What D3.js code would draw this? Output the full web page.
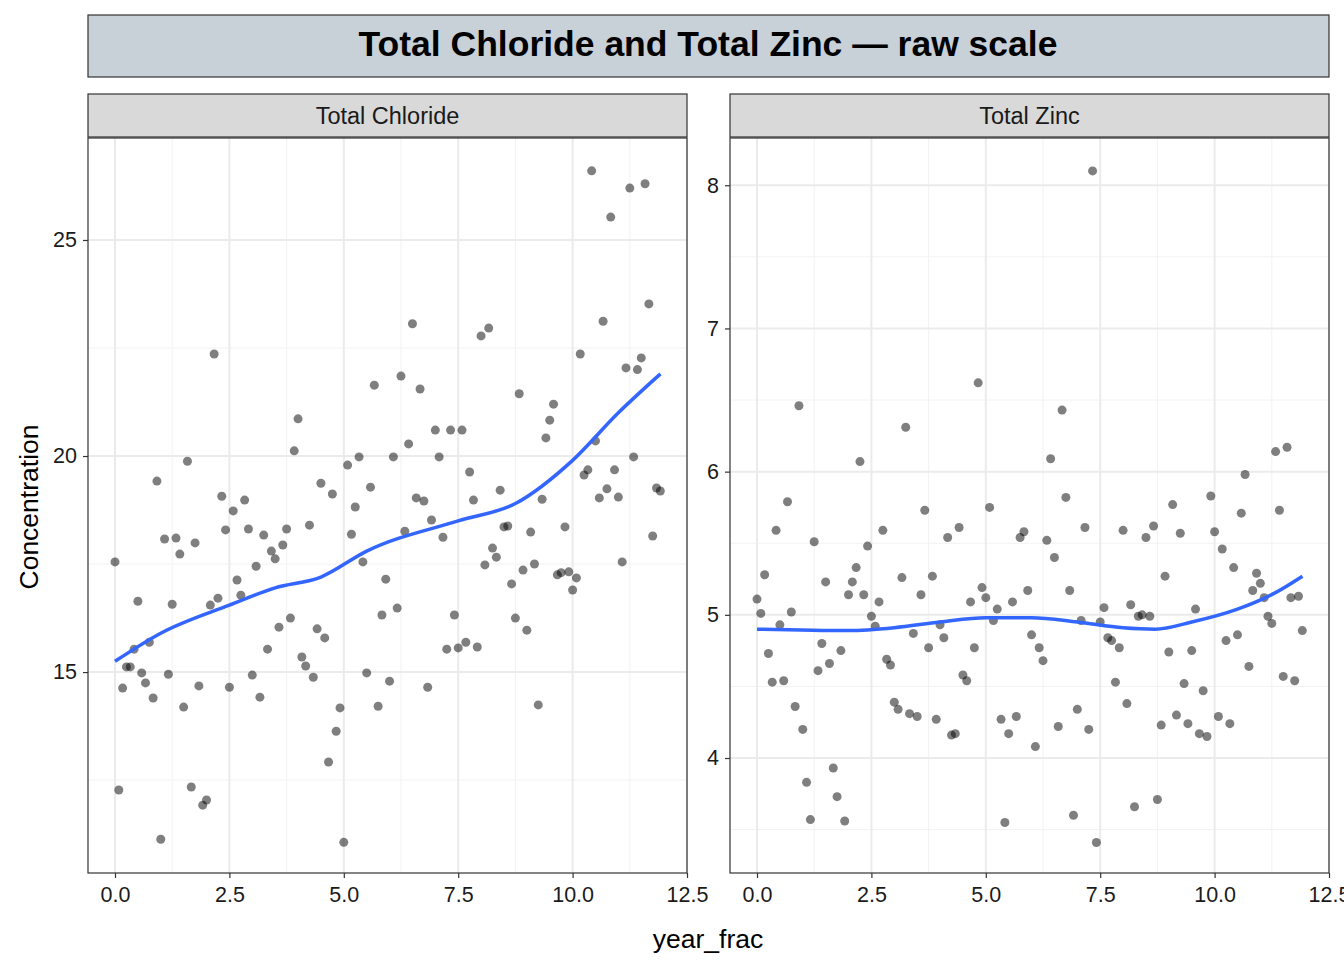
<!DOCTYPE html>
<html><head><meta charset="utf-8">
<script src="https://cdn.jsdelivr.net/npm/d3@7"></script>
<style>body{margin:0;background:#fff;font-family:"Liberation Sans",Arial,sans-serif}</style>
</head><body><svg id="chart" width="1344" height="960"></svg>
<script>
// monthly observations, 12 years x 12 months
const chloride = [17.55,12.27,14.63,15.12,15.12,15.53,16.64,14.98,14.75,15.69,14.4,19.42,11.13,18.08,14.95,16.57,18.1,17.73,14.19,19.88,
12.34,17.99,14.68,11.92,12.04,16.55,22.36,16.71,19.07,18.29,14.65,18.73,17.13,16.78,18.98,18.31,14.93,17.45,14.42,18.17,
15.53,17.8,17.62,16.04,17.94,18.31,16.25,20.12,20.86,15.35,15.14,18.4,14.88,16.0,19.37,15.79,12.92,19.12,13.63,14.17,
11.06,19.79,18.19,18.82,19.98,17.55,14.98,19.28,21.64,14.21,16.32,17.15,14.79,19.98,16.48,21.85,18.26,20.28,23.06,19.03,
21.55,18.96,14.65,18.52,20.6,19.98,18.12,15.53,20.6,16.32,15.56,20.6,15.69,19.63,18.98,15.58,22.78,17.48,22.96,17.87,
17.66,19.21,18.36,18.38,17.04,16.25,21.44,17.36,15.97,18.24,17.5,14.24,19.0,20.42,20.83,21.2,17.25,17.3,18.36,17.32,
16.9,17.18,22.36,19.56,19.68,26.6,20.35,19.03,23.12,19.24,25.53,19.68,19.05,17.55,22.04,26.2,19.98,22.0,22.27,26.3,
23.52,18.15,19.26,19.19];
const zinc = [5.11,5.01,5.28,4.73,4.53,5.59,4.93,4.54,5.79,5.02,4.36,6.46,4.2,3.83,3.57,5.51,4.61,4.8,5.23,4.66,
3.93,3.73,4.75,3.56,5.14,5.23,5.33,6.07,5.14,5.48,4.99,4.92,5.09,5.59,4.69,4.65,4.39,4.34,5.26,6.31,
4.31,4.87,4.29,5.14,5.73,4.77,5.27,4.27,4.93,4.84,5.54,4.16,4.17,5.61,4.58,4.54,5.09,4.77,6.62,5.19,
5.12,5.75,4.96,5.04,4.27,3.55,4.17,5.09,4.29,5.54,5.58,5.17,4.86,4.08,4.77,4.68,5.52,6.09,5.4,4.22,
6.43,5.82,5.17,3.6,4.34,4.96,5.61,4.2,8.1,3.41,4.95,5.05,4.84,4.82,4.53,4.77,5.59,4.38,5.07,3.66,
4.99,5.0,5.54,4.99,5.62,3.71,4.23,5.27,4.74,5.77,4.3,5.57,4.52,4.24,4.75,5.04,4.17,4.47,4.15,5.83,
5.58,4.29,5.46,4.82,4.24,5.33,4.86,5.71,5.98,4.64,5.17,5.29,5.22,5.12,4.99,4.94,6.14,5.73,4.57,6.17,
5.12,4.54,5.13,4.89];
const yearFrac = d3.range(144).map(i => i / 12);

const chlorideTrendX = [0,1,2.5,3.5,4.5,5.5,7.5,8.75,10,11,11.92];
const chlorideTrendY = [15.25,15.9,16.55,16.95,17.2,17.8,18.5,18.9,19.9,21.0,21.9];
const zincTrendX = [0,2,3,4,5,6,7,8,8.7,9.5,10.5,11.3,11.92];
const zincTrendY = [4.9,4.89,4.91,4.95,4.98,4.98,4.95,4.91,4.9,4.95,5.04,5.15,5.27];

const xTicks = [0, 2.5, 5, 7.5, 10, 12.5];

const svg = d3.select("#chart");
const font = "'Liberation Sans',Arial,sans-serif";

// title strip
svg.append("rect").attr("x", 88).attr("y", 15).attr("width", 1241).attr("height", 62)
  .attr("fill", "#c8d0d8").attr("stroke", "#333").attr("stroke-width", 1.2);
svg.append("text").attr("x", 708).attr("y", 56).attr("text-anchor", "middle")
  .attr("font-size", 35.5).attr("font-weight", "bold").attr("font-family", font)
  .text("Total Chloride and Total Zinc \u2014 raw scale");

const panels = [
  { name: "Total Chloride", left: 88, right: 687, vals: chloride, yDom: [10.35, 27.36],
    yTicks: [15, 20, 25], tx: chlorideTrendX, ty: chlorideTrendY },
  { name: "Total Zinc", left: 730, right: 1329, vals: zinc, yDom: [3.197, 8.33],
    yTicks: [4, 5, 6, 7, 8], tx: zincTrendX, ty: zincTrendY }
];
const pTop = 138, pBottom = 873;

panels.forEach(p => {
  // 0 sits 27px inside the panel, 12.5 on the right edge
  const x = d3.scaleLinear().domain([-(27 / ((p.right - p.left - 27) / 12.5)), 12.5]).range([p.left, p.right]);
  const y = d3.scaleLinear().domain(p.yDom).range([pBottom, pTop]);
  const g = svg.append("g");

  g.append("rect").attr("x", p.left).attr("y", pTop).attr("width", p.right - p.left)
    .attr("height", pBottom - pTop).attr("fill", "#fff");

  const step = p.yTicks[1] - p.yTicks[0];
  const xMinor = [1.25, 3.75, 6.25, 8.75, 11.25];
  const yMinor = p.yTicks.map(t => t + step / 2).concat([p.yTicks[0] - step / 2])
    .filter(v => v > p.yDom[0] && v < p.yDom[1]);
  g.selectAll(".xm").data(xMinor).enter().append("line")
    .attr("x1", d => x(d)).attr("x2", d => x(d)).attr("y1", pTop).attr("y2", pBottom)
    .attr("stroke", "#f2f2f2").attr("stroke-width", 1);
  g.selectAll(".ym").data(yMinor).enter().append("line")
    .attr("x1", p.left).attr("x2", p.right).attr("y1", d => y(d)).attr("y2", d => y(d))
    .attr("stroke", "#f2f2f2").attr("stroke-width", 1);
  g.selectAll(".xg").data(xTicks).enter().append("line")
    .attr("x1", d => x(d)).attr("x2", d => x(d)).attr("y1", pTop).attr("y2", pBottom)
    .attr("stroke", "#ebebeb").attr("stroke-width", 2);
  g.selectAll(".yg").data(p.yTicks).enter().append("line")
    .attr("x1", p.left).attr("x2", p.right).attr("y1", d => y(d)).attr("y2", d => y(d))
    .attr("stroke", "#ebebeb").attr("stroke-width", 2);

  g.selectAll(".pt").data(p.vals).enter().append("circle")
    .attr("cx", (d, i) => x(yearFrac[i])).attr("cy", d => y(d)).attr("r", 4.5)
    .attr("fill", "#000").attr("fill-opacity", 0.5);

  const line = d3.line().curve(d3.curveMonotoneX).x(d => x(d[0])).y(d => y(d[1]));
  g.append("path").datum(p.tx.map((v, i) => [v, p.ty[i]])).attr("d", line)
    .attr("fill", "none").attr("stroke", "#3366ff").attr("stroke-width", 3.5);

  g.append("rect").attr("x", p.left).attr("y", pTop).attr("width", p.right - p.left)
    .attr("height", pBottom - pTop).attr("fill", "none").attr("stroke", "#333").attr("stroke-width", 1.2);

  g.append("rect").attr("x", p.left).attr("y", 94).attr("width", p.right - p.left).attr("height", 43)
    .attr("fill", "#d9d9d9").attr("stroke", "#333").attr("stroke-width", 1.2);
  g.append("text").attr("x", (p.left + p.right) / 2).attr("y", 124).attr("text-anchor", "middle")
    .attr("font-size", 23.5).attr("fill", "#1a1a1a").attr("font-family", font).text(p.name);

  const xa = g.append("g").attr("transform", `translate(0,${pBottom})`)
    .call(d3.axisBottom(x).tickValues(xTicks).tickFormat(d3.format(".1f")).tickSizeOuter(0).tickSize(5).tickPadding(9));
  const ya = g.append("g").attr("transform", `translate(${p.left},0)`)
    .call(d3.axisLeft(y).tickValues(p.yTicks).tickFormat(d3.format("d")).tickSizeOuter(0).tickSize(5).tickPadding(6));
  [xa, ya].forEach(a => {
    a.select(".domain").remove();
    a.selectAll("line").attr("stroke", "#333").attr("stroke-width", 1.2);
    a.selectAll("text").attr("font-size", 21.5).attr("fill", "#1a1a1a").attr("font-family", font);
  });
});

svg.append("text").attr("x", 708).attr("y", 948).attr("text-anchor", "middle")
  .attr("font-size", 26.5).attr("font-family", font).text("year_frac");
svg.append("text").attr("transform", "translate(38,507) rotate(-90)").attr("text-anchor", "middle")
  .attr("font-size", 26.5).attr("font-family", font).text("Concentration");
</script></body></html>
